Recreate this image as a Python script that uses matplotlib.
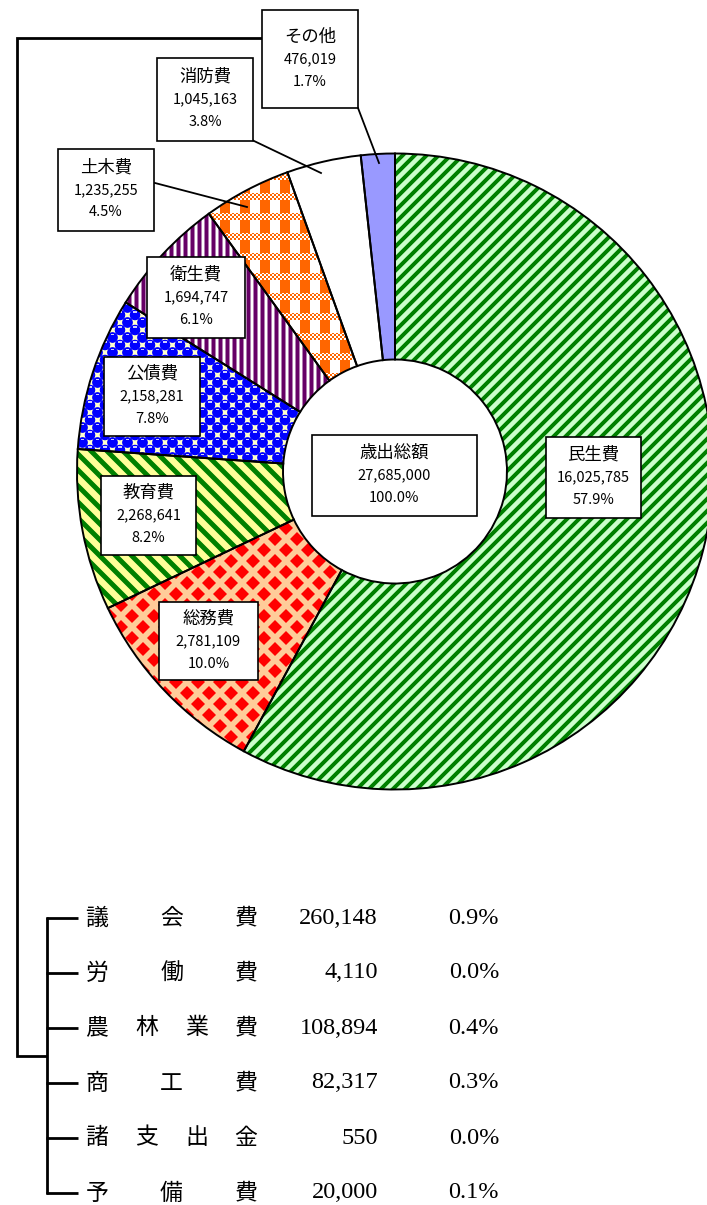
import numpy as np
import matplotlib
matplotlib.use('Agg')
import matplotlib.pyplot as plt
from matplotlib import font_manager
from matplotlib.colors import to_rgb

plt.rcParams['font.family'] = ['Noto Sans CJK JP', 'DejaVu Sans']

# ---------------- data ----------------
categories = ['民生費', '総務費', '教育費', '公債費', '衛生費', '土木費', '消防費', 'その他']
values = [16025785, 2781109, 2268641, 2158281, 1694747, 1235255, 1045163, 476019]
total_label = '歳出総額'
total_value = 27685000

other_items = ['議会費', '労働費', '農林業費', '商工費', '諸支出金', '予備費']
other_values = [260148, 4110, 108894, 82317, 550, 20000]

# ---------------- layout ----------------
W, H = 707, 1205
fig = plt.figure(figsize=(W / 100, H / 100), dpi=100)
ax = fig.add_axes([0, 0, 1, 1])
ax.set_axis_off()

def Y(y):  # reference pixel row -> data y
    return H - y

CX, CY = 395, Y(471.5)
R, RIN = 318, 112

wedges, _ = ax.pie(values, startangle=90, counterclock=False, radius=R,
                   center=(CX, CY), frame=True,
                   wedgeprops=dict(width=R - RIN, edgecolor='black',
                                   linewidth=1.4, facecolor='none'))
for w in wedges:
    w.set_zorder(3)

# ---------------- textures ----------------
rr, cc = np.indices((H, W)).astype(float)
rr += 0.5
cc += 0.5

def blend(alpha, c_on, c_off):
    a = alpha[..., None]
    return a * np.array(to_rgb(c_on)) + (1 - a) * np.array(to_rgb(c_off))

def stripes(coord, period, width, soft=1.0):
    dist = np.abs(np.mod(coord, period) - period / 2)
    return np.clip((width / 2 - dist) / soft + 0.5, 0, 1)

def lattice(p):
    sx1 = np.mod(cc, p) - p / 2
    sy1 = np.mod(rr, p) - p / 2
    sx2 = np.mod(cc + p / 2, p) - p / 2
    sy2 = np.mod(rr + p / 2, p) - p / 2
    return sx1, sy1, sx2, sy2

# 民生費: "/" green stripes
t_min = blend(stripes(rr + cc, 12, 5.5, 1.4), '#008000', '#ccffcc')
# 総務費: red diamonds on peach
sx1, sy1, sx2, sy2 = lattice(22)
d = np.minimum(np.abs(sx1) + np.abs(sy1), np.abs(sx2) + np.abs(sy2))
t_som = blend(np.clip((7.0 - d) / 1.3 + 0.5, 0, 1), '#ff0000', '#ffcc99')
# 教育費: "\" green stripes on yellow
t_kyo = blend(stripes(cc - rr, 16, 7, 1.3), '#008000', '#ffff99')
# 公債費: blue balls on pale yellow
sx1, sy1, sx2, sy2 = lattice(15)
d1 = np.hypot(sx1, sy1)
d2 = np.hypot(sx2, sy2)
dd = np.minimum(d1, d2)
t_kou = blend(np.clip((5.3 - dd) / 0.8 + 0.5, 0, 1), '#0000ff', '#ffffcc')
hl = (((sy1 > -3.8) & (sy1 < -2.2) & (np.abs(sx1) < 1.8)) |
      ((sy2 > -3.8) & (sy2 < -2.2) & (np.abs(sx2) < 1.8)))
t_kou[hl] = np.array(to_rgb('#ccccff'))
# 衛生費: purple vertical stripes
t_eis = blend(stripes(cc, 7, 4, 0.8), '#660066', '#ffffff')
# 土木費: orange / white plaid
col_or = np.mod(cc, 20) < 10
band = np.mod(rr, 20) >= 13
checker = (np.floor(rr / 2) + np.floor(cc / 2)) % 2 == 0
t_dob = blend(np.where(band, checker, col_or).astype(float), '#ff6600', '#ffffff')
# 消防費: white ; その他: lavender
t_sho = blend(np.zeros((H, W)), '#ffffff', '#ffffff')
t_son = blend(np.zeros((H, W)), '#9999ff', '#9999ff')

textures = [t_min, t_som, t_kyo, t_kou, t_eis, t_dob, t_sho, t_son]
for w, tex in zip(wedges, textures):
    im = ax.imshow(tex, extent=(0, W, 0, H), origin='upper',
                   interpolation='nearest', zorder=1)
    im.set_clip_path(w)

ax.set_xlim(0, W)
ax.set_ylim(0, H)
ax.set_aspect('auto')

# ---------------- fonts ----------------
names = {f.name for f in font_manager.fontManager.ttflist}
if 'Liberation Sans Narrow' in names:
    num_font = ['Liberation Sans Narrow', 'DejaVu Sans']
    num_size = 12.5
else:
    num_font = ['Noto Sans CJK JP', 'DejaVu Sans']
    num_size = 10.5
jp_size = 12.5

# ---------------- label boxes ----------------
boxes = {  # x0, x1, y0, y1 in reference pixels
    '民生費': (546, 641, 437, 518),
    '総務費': (159, 258, 602, 680),
    '教育費': (101, 196, 476, 555),
    '公債費': (104, 200, 357, 436),
    '衛生費': (147, 245, 257, 338),
    '土木費': (58, 154, 149, 231),
    '消防費': (157, 253, 58, 141),
    'その他': (262, 358, 10, 108),
}
leaders = {
    '土木費': ((155, 183), (247, 207)),
    '消防費': ((252, 140), (321, 173)),
    'その他': ((358, 108), (379, 163)),
}

def box_label(x0, x1, y0, y1, title, val, pct):
    ax.add_patch(plt.Rectangle((x0, Y(y1)), x1 - x0, y1 - y0, facecolor='white',
                               edgecolor='black', linewidth=1.2, zorder=5))
    xc = (x0 + x1) / 2
    yc = (y0 + y1) / 2
    ax.text(xc, Y(yc - 22.5), title, ha='center', va='center', fontsize=jp_size,
            zorder=6)
    ax.text(xc, Y(yc), val, ha='center', va='center', fontsize=num_size,
            family=num_font, zorder=6)
    ax.text(xc, Y(yc + 22.5), pct, ha='center', va='center', fontsize=num_size,
            family=num_font, zorder=6)

for cat, v in zip(categories, values):
    x0, x1, y0, y1 = boxes[cat]
    box_label(x0, x1, y0, y1, cat, f'{v:,}', f'{v / total_value * 100:.1f}%')
    if cat in leaders:
        (a, b), (c, e) = leaders[cat]
        ax.plot([a, c], [Y(b), Y(e)], color='black', linewidth=1.3, zorder=4)

box_label(312, 477, 435, 516, total_label, f'{total_value:,}', '100.0%')

# ---------------- bracket + breakdown table ----------------
lw = 2.0
row_y = [918 + 55 * i for i in range(len(other_items))]
ax.plot([262, 17, 17, 47], [Y(38), Y(38), Y(1056), Y(1056)], color='black',
        linewidth=lw, zorder=4, solid_capstyle='butt', solid_joinstyle='miter')
ax.plot([47, 47], [Y(row_y[0] - 1), Y(row_y[-1] + 1)], color='black',
        linewidth=lw, zorder=4, solid_capstyle='butt')
for y in row_y:
    ax.plot([46, 78], [Y(y), Y(y)], color='black', linewidth=lw, zorder=4,
            solid_capstyle='butt')

for name, v, y in zip(other_items, other_values, row_y):
    xs = np.linspace(97, 246, len(name))
    for ch, x in zip(name, xs):
        ax.text(x, Y(y), ch, ha='center', va='center', fontsize=16.5, zorder=6)
    ax.text(378, Y(y), f'{v:,}', ha='right', va='center', fontsize=17.5,
            family=['Liberation Serif', 'DejaVu Serif'], zorder=6)
    ax.text(499, Y(y), f'{v / total_value * 100:.1f}%', ha='right', va='center',
            fontsize=17.5, family=['Liberation Serif', 'DejaVu Serif'], zorder=6)

fig.savefig('out.png', dpi=100)
